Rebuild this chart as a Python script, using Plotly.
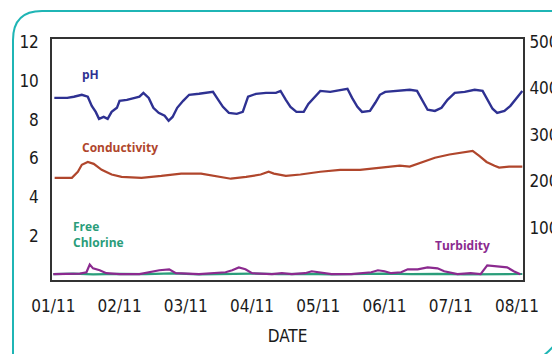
import plotly.graph_objects as go

# ---- data: days since 01/11 ----
tick_days = [0, 1, 2, 3, 4, 5, 6, 7]
tick_labels = ["01/11", "02/11", "03/11", "04/11", "05/11", "06/11", "07/11", "08/11"]

ph_day = [0.015, 0.21, 0.31, 0.43, 0.52, 0.58, 0.64, 0.69, 0.76, 0.82, 0.88, 0.96, 1.00,
          1.11, 1.23, 1.30, 1.36, 1.44, 1.51, 1.59, 1.68, 1.74, 1.80, 1.87, 1.96, 2.05,
          2.20, 2.35, 2.41, 2.49, 2.56, 2.65, 2.77, 2.86, 2.94, 3.06, 3.21, 3.36, 3.43,
          3.51, 3.58, 3.67, 3.78, 3.85, 3.93, 4.03, 4.18, 4.33, 4.44, 4.51, 4.59, 4.66,
          4.78, 4.86, 4.93, 5.01, 5.23, 5.38, 5.49, 5.56, 5.65, 5.76, 5.86, 5.95, 6.06,
          6.21, 6.36, 6.48, 6.55, 6.63, 6.70, 6.81, 6.90, 6.99, 7.08]
ph_val = [9.12, 9.12, 9.18, 9.28, 9.18, 8.71, 8.40, 8.04, 8.14, 8.04, 8.40, 8.61, 8.97,
          9.02, 9.12, 9.18, 9.38, 9.12, 8.61, 8.35, 8.20, 7.94, 8.14, 8.61, 8.97, 9.28,
          9.33, 9.38, 9.43, 9.02, 8.66, 8.35, 8.30, 8.40, 9.18, 9.33, 9.38, 9.38, 9.48,
          9.02, 8.66, 8.40, 8.40, 8.81, 9.12, 9.48, 9.43, 9.54, 9.59, 9.12, 8.66, 8.40,
          8.45, 8.87, 9.28, 9.43, 9.48, 9.54, 9.48, 9.02, 8.51, 8.45, 8.61, 9.02, 9.38,
          9.43, 9.54, 9.48, 9.02, 8.56, 8.35, 8.45, 8.71, 9.12, 9.48]

cond_day = [0.02, 0.28, 0.37, 0.43, 0.52, 0.61, 0.73, 0.88, 1.03, 1.33, 1.63, 1.93, 2.23,
            2.46, 2.68, 2.91, 3.13, 3.25, 3.33, 3.51, 3.73, 4.03, 4.33, 4.63, 4.93, 5.23,
            5.38, 5.53, 5.76, 5.98, 6.21, 6.33, 6.43, 6.54, 6.66, 6.73, 6.88, 7.08]
cond_val = [208, 208, 221, 236, 242, 238, 225, 215, 210, 208, 212, 217, 217,
            212, 206, 210, 215, 221, 217, 212, 215, 221, 225, 225, 230, 234,
            232, 240, 251, 258, 264, 266, 255, 242, 234, 230, 232, 232]

chlor_day = [0.0, 0.3, 0.6, 1.0, 1.4, 1.8, 2.2, 2.6, 3.0, 3.4, 3.8, 4.2, 4.6, 5.0, 5.4,
             5.8, 6.2, 6.6, 7.0, 7.08]
chlor_val = [0.05, 0.08, 0.04, 0.07, 0.05, 0.09, 0.04, 0.06, 0.08, 0.05, 0.07, 0.04,
             0.06, 0.08, 0.05, 0.07, 0.04, 0.06, 0.05, 0.06]

turb_day = [0.0, 0.4, 0.5, 0.55, 0.6, 0.7, 0.8, 1.0, 1.3, 1.5, 1.6, 1.75, 1.85, 2.2,
            2.6, 2.7, 2.8, 2.9, 3.0, 3.3, 3.45, 3.6, 3.8, 3.9, 4.0, 4.2, 4.5, 4.8, 4.9,
            5.0, 5.1, 5.25, 5.35, 5.5, 5.65, 5.8, 5.9, 6.1, 6.3, 6.45, 6.55, 6.7, 6.85,
            6.95, 7.05]
turb_val = [0.05, 0.08, 0.15, 0.55, 0.35, 0.25, 0.1, 0.05, 0.05, 0.2, 0.25, 0.3, 0.1, 0.05,
            0.15, 0.25, 0.4, 0.3, 0.1, 0.05, 0.1, 0.05, 0.1, 0.2, 0.15, 0.05, 0.05, 0.15, 0.25,
            0.2, 0.1, 0.15, 0.3, 0.3, 0.4, 0.35, 0.2, 0.05, 0.1, 0.05, 0.5, 0.45, 0.4,
            0.2, 0.05]

PH_C = "#2e3192"
COND_C = "#b0462c"
CHL_C = "#2a9d7a"
TURB_C = "#8b2a8f"
BORDER_C = "#1fb5b5"

fig = go.Figure()
fig.add_trace(go.Scatter(x=chlor_day, y=chlor_val, mode="lines",
                         line=dict(color=CHL_C, width=2.2), name="Free Chlorine"))
fig.add_trace(go.Scatter(x=turb_day, y=turb_val, mode="lines",
                         line=dict(color=TURB_C, width=2.2), name="Turbidity"))
fig.add_trace(go.Scatter(x=ph_day, y=ph_val, mode="lines",
                         line=dict(color=PH_C, width=2.4), name="pH"))
fig.add_trace(go.Scatter(x=cond_day, y=cond_val, mode="lines", yaxis="y2",
                         line=dict(color=COND_C, width=2.2), name="Conductivity"))

AX_FONT = dict(family="DejaVu Sans Condensed, sans-serif", size=17, color="#1a1a1a")
L, R, T, B = 52, 523, 39, 280


def px_to_paper(px, py):
    return (px - L) / (R - L), (B - py) / (B - T)


def path(points, cmd):
    parts = []
    for c, pts in zip(cmd, points):
        coords = " ".join("%.4f,%.4f" % px_to_paper(*p) for p in pts)
        parts.append(c + " " + coords)
    return " ".join(parts)


border_path = path([[(13, 380)], [(13, 40)], [(13, 11), (42, 11)], [(600, 11)]],
                   ["M", "L", "Q", "L"])
corner_path = path([[(540, 358)], [(548, 353), (556, 343)]], ["M", "Q"])

fig.update_layout(
    width=552, height=354,
    margin=dict(l=L, r=552 - R, t=T, b=354 - B, autoexpand=False),
    paper_bgcolor="white", plot_bgcolor="white",
    showlegend=False,
    font=AX_FONT,
    xaxis=dict(range=[-0.02, 7.09], tickvals=tick_days, ticktext=tick_labels,
               automargin=False,
               showgrid=False, zeroline=False, showline=True, mirror=True,
               linecolor="#333333", linewidth=1.5,
               ticks="outside", ticklen=10, tickcolor="rgba(0,0,0,0)",
               tickfont=AX_FONT,
               title=dict(text="DATE", font=AX_FONT, standoff=15)),
    yaxis=dict(range=[-0.25, 12.15], tickvals=[2, 4, 6, 8, 10, 12],
               automargin=False,
               showgrid=False, zeroline=False, showline=True, mirror=True,
               linecolor="#333333", linewidth=1.5,
               ticks="outside", ticklen=8, tickcolor="rgba(0,0,0,0)",
               tickfont=AX_FONT),
    yaxis2=dict(range=[-11.8, 506.4], tickvals=[100, 200, 300, 400, 500],
                automargin=False,
                overlaying="y", side="right", showgrid=False, zeroline=False,
                showline=False, ticks="outside", ticklen=2,
                tickcolor="rgba(0,0,0,0)", tickfont=AX_FONT),
    shapes=[
        dict(type="path", xref="paper", yref="paper", path=border_path,
             line=dict(color=BORDER_C, width=2)),
        dict(type="path", xref="paper", yref="paper", path=corner_path,
             line=dict(color=BORDER_C, width=2)),
    ],
)

LBL = "Open Sans, Lato, sans-serif"
fig.add_annotation(x=0.56, y=10.3, text="<b>pH</b>", showarrow=False,
                   font=dict(family=LBL, size=12, color=PH_C))
fig.add_annotation(x=1.0, y=6.55, text="<b>Conductivity</b>", showarrow=False,
                   font=dict(family=LBL, size=12, color=COND_C))
fig.add_annotation(x=0.26, y=2.1, text="<b>Free<br>Chlorine</b>", showarrow=False,
                   xanchor="left", align="left",
                   font=dict(family=LBL, size=12, color=CHL_C))
fig.add_annotation(x=6.18, y=1.55, text="<b>Turbidity</b>", showarrow=False,
                   font=dict(family=LBL, size=12, color=TURB_C))

fig.write_html("out.html")
